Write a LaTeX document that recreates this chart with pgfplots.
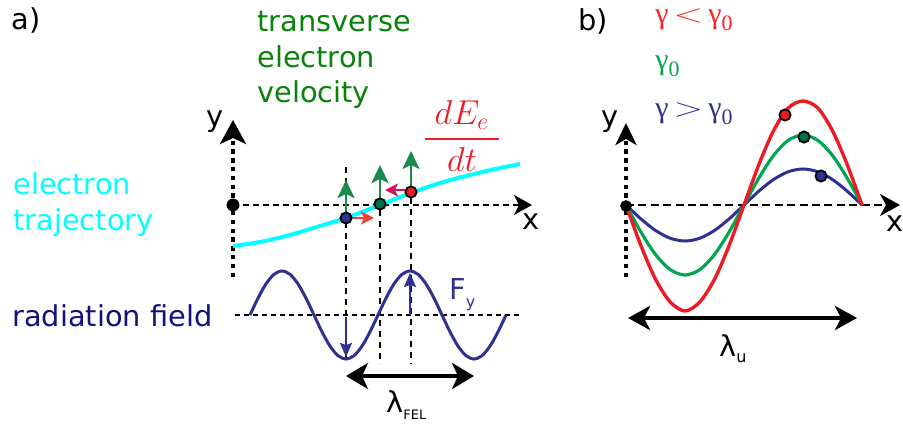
\documentclass[border=0pt]{standalone}
\usepackage{pgfplots}
\pgfplotsset{compat=1.18}
\usetikzlibrary{arrows.meta}
\usepackage{graphicx}
\usepackage{fontspec}
\setmainfont{DejaVu Sans}
\newfontfamily\serif{Liberation Serif}
\definecolor{tgreen}{HTML}{0A820A}
\definecolor{tnavy}{HTML}{12127F}
\definecolor{wnavy}{HTML}{2E3192}
\definecolor{cred}{HTML}{ED1C24}
\definecolor{gred}{HTML}{FF2020}
\definecolor{cgreen}{HTML}{00A651}
\definecolor{dgreen}{HTML}{00704A}
\definecolor{agreen}{HTML}{1B8A4C}
\definecolor{ared}{HTML}{EF4136}
\definecolor{acrim}{HTML}{D2145A}
\definecolor{ecyan}{HTML}{00FFFF}
\newcommand\fs{\fontsize{14.4}{17}\selectfont}
\newcommand\gsub{\raisebox{-3.5pt}{\fontsize{11}{11}\selectfont 0}}
\newcommand\rel[1]{\hspace{2.5pt}\raisebox{0.5pt}{\scalebox{1.35}[0.9]{$#1$}}\hspace{2.5pt}}
\tikzset{lab/.style={anchor=base west, inner sep=0pt, font=\fs}}
\begin{document}
\begin{tikzpicture}
\begin{axis}[scale only axis, width=451.5pt, height=213pt,
  xmin=0, xmax=903, ymin=0, ymax=426, y dir=reverse,
  axis lines=none, ticks=none, clip=false]
% ---------- panel a ----------
% vertical dashed guides
\addplot[black, line width=0.6pt, dash pattern=on 3pt off 2.5pt, no markers] coordinates {(346,167) (346,364)};
\addplot[black, line width=0.6pt, dash pattern=on 3pt off 2.5pt, no markers] coordinates {(380,210) (380,364)};
\addplot[black, line width=0.6pt, dash pattern=on 3pt off 2.5pt, no markers] coordinates {(411,198) (411,364)};
% radiation field axis
\addplot[black, line width=0.7pt, dash pattern=on 2.5pt off 2pt, no markers] coordinates {(235,315) (520,315)};
% radiation field
\addplot[wnavy, line width=1.5pt, smooth, no markers] coordinates {
(250,315) (258,298.16) (266,283.89) (274,274.35) (282,271) (290,274.35) (298,283.89) (306,298.16)
(314,315) (322,331.84) (330,346.11) (338,355.65) (346,359) (354,355.65) (362,346.11) (370,331.84)
(378,315) (386,298.16) (394,283.89) (402,274.35) (410,271) (418,274.35) (426,283.89) (434,298.16)
(442,315) (450,331.84) (458,346.11) (466,355.65) (474,359) (482,355.65) (490,346.11) (498,331.84)
(506,315)};
% F_y arrows
\addplot[wnavy, line width=1pt, -{Stealth[length=7pt,width=6pt,inset=1pt]}, no markers] coordinates {(346,317) (346,357)};
\addplot[wnavy, line width=1pt, -{Stealth[length=7pt,width=6pt,inset=1pt]}, no markers] coordinates {(410,315) (410,273)};
% lambda_FEL
\addplot[black, line width=2pt, {Stealth[length=11pt,width=13pt,inset=3pt]}-{Stealth[length=11pt,width=13pt,inset=3pt]}, no markers] coordinates {(346,376) (474,376)};
% axes a
\addplot[black, line width=2pt, dash pattern=on 2.2pt off 2.2pt, -{Stealth[length=12pt,width=13pt,inset=3pt]}, no markers] coordinates {(233,277) (233,120)};
\addplot[black, line width=1pt, dash pattern=on 3pt off 2pt, -{Stealth[length=9pt,width=10pt,inset=2.5pt]}, no markers] coordinates {(233,205) (532,205)};
% electron trajectory
\addplot[ecyan, line width=2pt, smooth, no markers] coordinates {
(233,246) (260,242) (290,235) (320,226) (346,218) (380,205) (411,193) (440,183) (470,175) (500,168) (520,164)};
% velocity arrows
\addplot[agreen, line width=1.2pt, -{Stealth[length=9pt,width=8.5pt,inset=2pt]}, no markers] coordinates {(346,214) (346,180)};
\addplot[agreen, line width=1.2pt, -{Stealth[length=9pt,width=8.5pt,inset=2pt]}, no markers] coordinates {(380,200) (380,165)};
\addplot[agreen, line width=1.2pt, -{Stealth[length=9pt,width=8.5pt,inset=2pt]}, no markers] coordinates {(411,188) (411,151)};
% energy arrows
\addplot[ared, line width=1.2pt, -{Stealth[length=6.5pt,width=6.5pt,inset=1.5pt]}, no markers] coordinates {(352,218) (374,218)};
\addplot[acrim, line width=1.2pt, -{Stealth[length=6.5pt,width=6.5pt,inset=1.5pt]}, no markers] coordinates {(406,190) (385,190)};
% electrons
\addplot[only marks, mark=*, mark size=2.8pt, mark options={draw=black, fill=wnavy, line width=0.9pt}] coordinates {(346,218)};
\addplot[only marks, mark=*, mark size=2.8pt, mark options={draw=black, fill=dgreen, line width=0.9pt}] coordinates {(380,204)};
\addplot[only marks, mark=*, mark size=2.8pt, mark options={draw=black, fill=cred, line width=0.9pt}] coordinates {(411,192)};
\addplot[only marks, mark=*, mark size=3pt, black] coordinates {(233,205)};
% texts a
\node[lab] at (axis cs:11,30) {a)};
\node[lab, text=tgreen] at (axis cs:257,32) {transverse};
\node[lab, text=tgreen] at (axis cs:257,68) {electron};
\node[lab, text=tgreen] at (axis cs:257,103) {velocity};
\node[lab, text=ecyan] at (axis cs:13,195) {electron};
\node[lab, text=ecyan] at (axis cs:13,231) {trajectory};
\node[lab, text=tnavy] at (axis cs:12,327) {radiation field};
\node[lab, text=wnavy] at (axis cs:449,300) {F\raisebox{-4pt}{\fontsize{8}{8}\selectfont y}};
\node[lab] at (axis cs:386,413) {λ\raisebox{-3pt}{\fontsize{6.5}{7}\selectfont FEL}};
\node[lab] at (axis cs:206,127) {y};
\node[lab] at (axis cs:522,230) {x};
\node[anchor=center, inner sep=0pt, text=cred, font=\fontsize{16.5}{18}\selectfont] at (axis cs:462,136) {$\displaystyle{\;dE_{e}\; \above 1pt dt}$};
% ---------- panel b ----------
\addplot[black, line width=2pt, dash pattern=on 2.2pt off 2.2pt, -{Stealth[length=11pt,width=10.5pt,inset=3pt]}, no markers] coordinates {(626,277) (626,123)};
\addplot[black, line width=1.3pt, dash pattern=on 4pt off 2.2pt, -{Stealth[length=10pt,width=11pt,inset=3pt]}, no markers] coordinates {(626,205) (900,205)};
\addplot[wnavy, line width=1.5pt, smooth, no markers] coordinates {
(626,205) (640.75,218.78) (655.5,230.46) (670.25,238.26) (685,241) (699.75,238.26) (714.5,230.46) (729.25,218.78)
(744,205) (758.75,191.22) (773.5,179.54) (788.25,171.74) (803,169) (817.75,171.74) (832.5,179.54) (847.25,191.22) (862,205)};
\addplot[cgreen, line width=1.6pt, smooth, no markers] coordinates {
(626,205) (640.75,231.79) (655.5,254.50) (670.25,269.67) (685,275) (699.75,269.67) (714.5,254.50) (729.25,231.79)
(744,205) (758.75,178.21) (773.5,155.50) (788.25,140.33) (803,135) (817.75,140.33) (832.5,155.50) (847.25,178.21) (862,205)};
\addplot[cred, line width=1.7pt, smooth, no markers] coordinates {
(626,205) (640.75,245.18) (655.5,279.25) (670.25,302.01) (685,311) (699.75,302.01) (714.5,279.25) (729.25,245.18)
(744,205) (758.75,164.82) (773.5,130.75) (788.25,107.99) (803,101) (817.75,107.99) (832.5,130.75) (847.25,164.82) (862,205)};
\addplot[only marks, mark=*, mark size=2.8pt, mark options={draw=black, fill=cred, line width=0.9pt}] coordinates {(785,115)};
\addplot[only marks, mark=*, mark size=2.8pt, mark options={draw=black, fill=dgreen, line width=0.9pt}] coordinates {(804,137)};
\addplot[only marks, mark=*, mark size=2.8pt, mark options={draw=black, fill=wnavy, line width=0.9pt}] coordinates {(821,176)};
\addplot[only marks, mark=*, mark size=2.7pt, black] coordinates {(626,206)};
\addplot[black, line width=2pt, {Stealth[length=11pt,width=12pt,inset=3pt]}-{Stealth[length=11pt,width=12pt,inset=3pt]}, no markers] coordinates {(628,318) (857,318)};
% texts b
\node[lab] at (axis cs:578,31) {b)};
\node[lab, text=gred, font=\serif\fontsize{15}{17}\selectfont] at (axis cs:655,24) {γ\rel{<}γ\gsub};
\node[lab, text=cgreen, font=\serif\fontsize{15}{17}\selectfont] at (axis cs:655,70) {γ\gsub};
\node[lab, text=wnavy, font=\serif\fontsize{15}{17}\selectfont] at (axis cs:655,118) {γ\rel{>}γ\gsub};
\node[lab] at (axis cs:601,127) {y};
\node[lab] at (axis cs:886,232) {x};
\node[lab] at (axis cs:719,357) {λ\raisebox{-3pt}{\fontsize{8}{8}\selectfont u}};
\end{axis}
\pgfresetboundingbox
\useasboundingbox (0,0) rectangle (451.5pt,213pt);
\end{tikzpicture}
\end{document}
